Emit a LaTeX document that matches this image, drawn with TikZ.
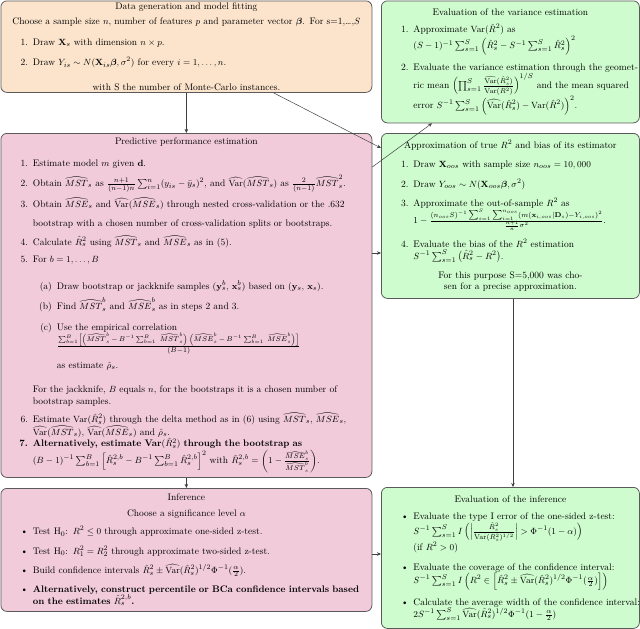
\documentclass[tikz,border=0pt]{standalone}
\usepackage{amsmath,amssymb,bm}
\usepackage{enumitem}
\usetikzlibrary{arrows.meta}
\setlength{\parindent}{0pt}
\setlist[1]{leftmargin=30pt, topsep=8pt, partopsep=0pt, itemsep=4pt, parsep=4pt}
\setlist[2]{leftmargin=24pt, topsep=6pt, partopsep=0pt, itemsep=3pt, parsep=2pt}
\definecolor{peach}{RGB}{252,228,204}
\definecolor{mint}{RGB}{206,252,206}
\definecolor{rose}{RGB}{241,203,217}
\definecolor{edge}{RGB}{90,90,90}
\newcommand{\hVar}{\widehat{\mathrm{Var}}}
\newcommand{\Var}{\mathrm{Var}}
\newcommand{\hMST}{\widehat{MST}}
\newcommand{\hMSE}{\widehat{MSE}}
\newcommand{\tsum}{\mathop{\textstyle\sum}}
\newcommand{\tallstrut}[1]{\rule{0pt}{#1}}
\tikzset{
  box/.style={draw=edge, line width=0.8pt, rounded corners=6pt, anchor=north west,
    inner sep=2pt, font=\fontsize{9.5pt}{11.4pt}\selectfont},
  conn/.style={draw=black!75, line width=0.5pt, -{Stealth[length=4pt,width=3.5pt]}}
}
\begin{document}
\begin{tikzpicture}[x=1pt,y=1pt]
\useasboundingbox (0,0) rectangle (640,-629);

\node[box, fill=peach, text width=367pt, minimum height=89pt] (data) at (0.5,-0.5) {%
{\centering Data generation and model fitting\par}
\vspace{4pt}
{\centering Choose a sample size $n$, number of features $p$ and parameter vector $\bm{\beta}$. For s=1,\ldots,$S$\par}
\begin{enumerate}[topsep=9pt, itemsep=5pt]
\item Draw $\mathbf{X}_s$ with dimension $n\times p$.
\item Draw $Y_{is}\sim N(\mathbf{X}_{is}\bm{\beta},\sigma^2)$ for every $i=1,\ldots,n$.
\end{enumerate}
\vspace{4pt}
{\centering with S the number of Monte-Carlo instances.\par}};

\node[box, fill=mint, text width=254pt, minimum height=122pt] (var) at (381,-0.5) {%
{\centering Evaluation of the variance estimation\par}
\begin{enumerate}[topsep=6pt]
\item Approximate $\Var(\hat R^2)$ as\\
$(S-1)^{-1}\sum_{s=1}^S\left(\hat R^2_s - S^{-1}\sum_{s=1}^S\hat R^2_s\right)^2$
\item \makebox[\linewidth][s]{Evaluate the variance estimation through the geomet-}\\
ric mean $\left(\prod_{s=1}^S\frac{\hVar(\hat R^2_s)}{\Var(\hat R^2)}\right)^{1/S}$ and the mean squared error $S^{-1}\sum_{s=1}^S\left(\hVar(\hat R^2_s)-\Var(\hat R^2)\right)^2$.
\end{enumerate}};

\node[box, fill=rose, text width=367pt, minimum height=344pt] (pred) at (0.5,-133) {%
{\centering Predictive performance estimation\par}
\begin{enumerate}[topsep=10pt, itemsep=2pt]
\item Estimate model $m$ given $\mathbf{d}$.
\item Obtain $\hMST_s$ as $\frac{n+1}{(n-1)n}\sum_{i=1}^n(y_{is}-\bar y_s)^2$, and $\hVar(\hMST_s)$ as $\frac{2}{(n-1)}\hMST_s^2$.
\vspace{-1pt}
\item Obtain $\hMSE_s$ and $\hVar(\hMSE_s)$ through nested cross-validation or the .632 \tallstrut{16pt}bootstrap with a chosen number of cross-validation splits or bootstraps.
\item Calculate $\hat R^2_s$ using $\hMST_s$ and $\hMSE_s$ as in (5).
\item For $b=1,\ldots,B$
\begin{enumerate}[label=(\alph*)]
\item \tallstrut{14pt}Draw bootstrap or jackknife samples $(\mathbf{y}_s^b,\,\mathbf{x}_s^b)$ based on $(\mathbf{y}_s,\,\mathbf{x}_s)$.
\item Find $\hMST_s^b$ and $\hMSE_s^b$ as in steps 2 and 3.
\item \tallstrut{12pt}Use the empirical correlation\\
$\frac{\sum_{b=1}^B\left[\left(\hMST_s^b\,-\,B^{-1}\sum_{b=1}^B\;\hMST_s^b\right)\,\left(\hMSE_s^b\,-\,B^{-1}\sum_{b=1}^B\;\hMSE_s^b\right)\right]}{(B-1)}$\\[7pt]
as estimate $\hat\rho_s$.
\end{enumerate}
\vspace{3pt}
For the jackknife, $B$ equals $n$, for the bootstraps it is a chosen number of boot\-strap samples.
\item Estimate $\Var(\hat R^2_s)$ through the delta method as in (6) using $\hMST_s$, $\hMSE_s$, $\hVar(\hMST_s)$, $\hVar(\hMSE_s)$ and $\hat\rho_s$.
\vspace{-6pt}
\item[\textbf{7.}] \textbf{Alternatively, estimate Var$(\hat R^2_s)$ through the bootstrap as}\\
$(B-1)^{-1}\sum_{b=1}^B\left[\hat R_s^{2,b}-B^{-1}\sum_{b=1}^B\hat R_s^{2,b}\right]^2$ with $\hat R_s^{2,b}=\left(1-\frac{\hMSE_s^b}{\hMST_s^b}\right)$.
\end{enumerate}};

\node[box, fill=mint, text width=254pt, minimum height=165pt] (approx) at (381,-133) {%
{\centering Approximation of true $R^2$ and bias of its estimator\par}
\begin{enumerate}
\item Draw $\mathbf{X}_{oos}$ with sample size $n_{oos}=10,000$
\item Draw $Y_{oos}\sim N(\mathbf{X}_{oos}\bm{\beta},\sigma^2)$
\item Approximate the out-of-sample $R^2$ as\\
$1-\frac{(n_{oos}S)^{-1}\tsum_{s=1}^S\tsum_{i=1}^{n_{oos}}(m(\mathbf{x}_{i,oos}|\mathbf{D}_s)-Y_{i,oos})^2}{\frac{n+1}{n}\sigma^2}$.
\item Evaluate the bias of the $R^2$ estimation\\
$S^{-1}\sum_{s=1}^S\left(\hat R^2_s-R^2\right)$.
\end{enumerate}
{\centering For this purpose S=5,000 was cho-\\sen for a precise approximation.\par}};

\node[box, fill=rose, text width=367pt, minimum height=123pt] (inf) at (0.5,-488) {%
{\centering Inference\par}
\vspace{4pt}
{\centering Choose a significance level $\alpha$\par}
\begin{itemize}[topsep=7pt]
\item Test H$_0$: $R^2\leq 0$ through approximate one-sided z-test.
\item Test H$_0$: $R^2_1=R^2_2$ through approximate two-sided z-test.
\item Build confidence intervals $\hat R^2_s\pm\hVar(\hat R^2_s)^{1/2}\Phi^{-1}(\frac{\alpha}{2})$.
\item \textbf{Alternatively, construct percentile or BCa confidence intervals based on the estimates $\hat R_s^{2,b}$.}
\end{itemize}};

\node[box, fill=mint, text width=254pt, minimum height=141pt] (evinf) at (381,-487) {%
{\centering Evaluation of the inference\par}
\begin{itemize}[topsep=6pt]
\item Evaluate the type I error of the one-sided z-test:\\
$S^{-1}\sum_{s=1}^S I\left(\left|\frac{\hat R^2_s}{\hVar(\hat R^2_s)^{1/2}}\right|>\Phi^{-1}(1-\alpha)\right)$\\
(if $R^2>0$)
\item Evaluate the coverage of the confidence interval:\\
$S^{-1}\sum_{s=1}^S I\left(R^2\in\left[\hat R^2_s\pm\hVar(\hat R^2_s)^{1/2}\Phi^{-1}(\frac{\alpha}{2})\right]\right)$
\item \makebox[\linewidth][l]{Calculate the average width of the confidence interval:}\\
$2S^{-1}\sum_{s=1}^S\hVar(\hat R^2_s)^{1/2}\Phi^{-1}(1-\frac{\alpha}{2})$
\end{itemize}};

\draw[conn] (data.south) -- (pred.north);
\draw[conn] ([xshift=273pt]data.south west) -- ([yshift=-15pt]approx.north west);
\draw[conn] ([yshift=-34pt]pred.north east) -- ([xshift=51pt]var.south west);
\draw[conn] ([yshift=-120pt]pred.north east) -- ([yshift=-120pt]pred.north east -| approx.west);
\draw[conn] (pred.south) -- (inf.north);
\draw[conn] ([yshift=-66pt]inf.north east) -- ([yshift=-66pt]inf.north east -| evinf.west);
\draw[conn] ([xshift=132pt]approx.south west) -- ([xshift=132pt]approx.south west |- evinf.north);
\end{tikzpicture}
\end{document}
